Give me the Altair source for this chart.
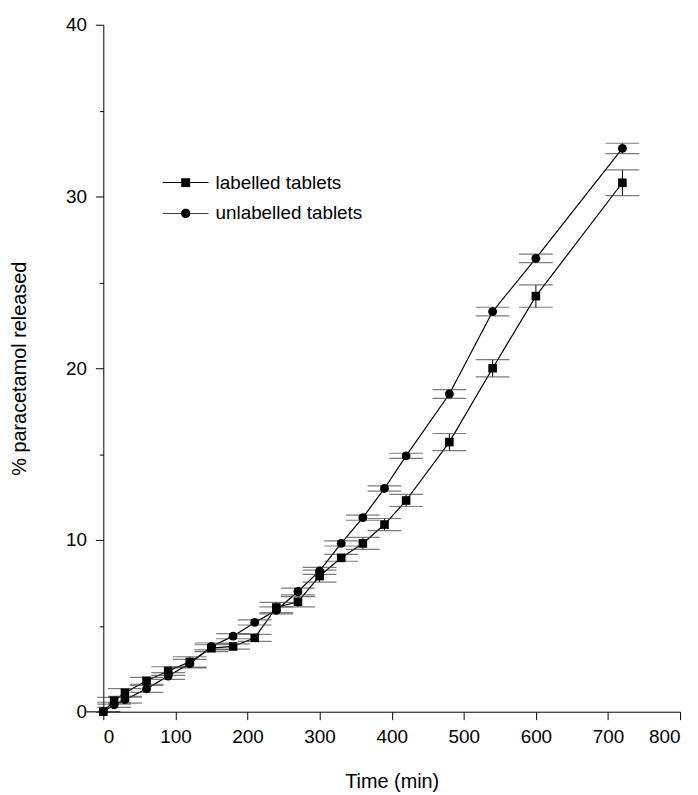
import altair as alt
import pandas as pd

time = [0, 15, 30, 60, 90, 120, 150, 180, 210, 240, 270, 300, 330, 360, 390, 420, 480, 540, 600, 720]
labelled = [0, 0.64, 1.1, 1.8, 2.37, 2.9, 3.7, 3.8, 4.3, 6.07, 6.4, 7.9, 8.96, 9.8, 10.9, 12.3, 15.7, 20.0, 24.2, 30.8]
labelled_sd = [0, 0.2, 0.25, 0.2, 0.25, 0.3, 0.2, 0.15, 0.2, 0.3, 0.3, 0.35, 0.2, 0.35, 0.35, 0.35, 0.5, 0.5, 0.65, 0.75]
unlabelled = [0, 0.4, 0.7, 1.33, 2.08, 2.8, 3.8, 4.4, 5.2, 5.9, 7.0, 8.2, 9.8, 11.3, 13.0, 14.9, 18.5, 23.3, 26.4, 32.8]
unlabelled_sd = [0, 0.15, 0.2, 0.2, 0.2, 0.25, 0.2, 0.15, 0.15, 0.2, 0.2, 0.2, 0.15, 0.15, 0.15, 0.15, 0.25, 0.25, 0.25, 0.3]
series = ["labelled tablets", "unlabelled tablets"]

rows = []
for name, vals, sds in [(series[0], labelled, labelled_sd), (series[1], unlabelled, unlabelled_sd)]:
    for t, v, s in zip(time, vals, sds):
        rows.append({"time": t, "value": v, "lo": v - s, "hi": v + s, "series": name})
df = pd.DataFrame(rows)

FONT = "Liberation Sans"
xs = alt.Scale(domain=[0, 800], nice=False)
ys = alt.Scale(domain=[0, 40], nice=False)

xaxis = alt.Axis(
    title="Time (min)", values=list(range(0, 801, 50)),
    labelExpr="datum.value % 100 === 0 ? datum.label : ''",
    tickSize={"condition": {"test": "datum.value % 100 === 0", "value": 8}, "value": 4},
    grid=False, domainColor="black", tickColor="black", labelColor="black",
    labelFontSize=19, titleFontSize=20, labelFont=FONT, titleFont=FONT,
    titleFontWeight="normal", labelPadding=8, titlePadding=25, titleColor="black",
)
yaxis = alt.Axis(
    title="% paracetamol released", values=list(range(0, 41, 5)),
    labelExpr="datum.value % 10 === 0 ? datum.label : ''",
    tickSize={"condition": {"test": "datum.value % 10 === 0", "value": 8}, "value": 4},
    grid=False, domainColor="black", tickColor="black", labelColor="black",
    labelFontSize=19, titleFontSize=20, labelFont=FONT, titleFont=FONT,
    titleFontWeight="normal", labelPadding=9, titlePadding=36, titleColor="black",
)

base = alt.Chart(df)

lines = base.mark_line(color="black", strokeWidth=1.2).encode(
    x=alt.X("time:Q", scale=xs, axis=xaxis),
    y=alt.Y("value:Q", scale=ys, axis=yaxis),
    detail="series:N",
)

rules = base.mark_rule(color="black", strokeWidth=1).encode(
    x="time:Q", y="lo:Q", y2="hi:Q"
)
cap_lo = base.mark_tick(color="#444444", orient="horizontal", size=34, thickness=1.2).encode(
    x="time:Q", y="lo:Q"
)
cap_hi = base.mark_tick(color="#444444", orient="horizontal", size=34, thickness=1.2).encode(
    x="time:Q", y="hi:Q"
)

squares = base.transform_filter(alt.datum.series == series[0]).mark_square(
    color="black", opacity=1, size=75
).encode(x="time:Q", y="value:Q")
circles = base.transform_filter(alt.datum.series == series[1]).mark_circle(
    color="black", opacity=1, size=80
).encode(x="time:Q", y="value:Q")

# legend symbols: thin filled bars for the line pieces plus the marker
sq_path = ("M-2.3,-0.05H-0.45V0.05H-2.3Z M0.45,-0.05H2.3V0.05H0.45Z "
           "M-0.45,-0.45H0.45V0.45H-0.45Z")
ci_path = ("M-2.3,-0.05H-0.45V0.05H-2.3Z M0.45,-0.05H2.3V0.05H0.45Z "
           "M-0.47,0A0.47,0.47 0 1,0 0.47,0A0.47,0.47 0 1,0 -0.47,0Z")

legend_layer = base.mark_point(
    filled=True, fill="black", opacity=0
).encode(
    x="time:Q", y="value:Q",
    shape=alt.Shape(
        "series:N",
        scale=alt.Scale(domain=series, range=[sq_path, ci_path]),
        legend=alt.Legend(
            title=None, orient="none", legendX=73, legendY=149, padding=0,
            symbolSize=400, symbolFillColor="black", symbolOpacity=1,
            symbolStrokeWidth=0,
            labelFont=FONT, labelFontSize=19, labelColor="black",
            labelOffset=20, rowPadding=11,
        ),
    ),
)

chart = alt.layer(lines, rules, cap_lo, cap_hi, squares, circles, legend_layer).properties(
    width=581, height=692,
    autosize=alt.AutoSizeParams(type="none"),
    padding={"left": 96, "top": 14, "right": 10, "bottom": 80},
    background="white",
).configure_view(stroke=None)

chart.save("out.html", embed_options={"renderer": "svg", "actions": False})
